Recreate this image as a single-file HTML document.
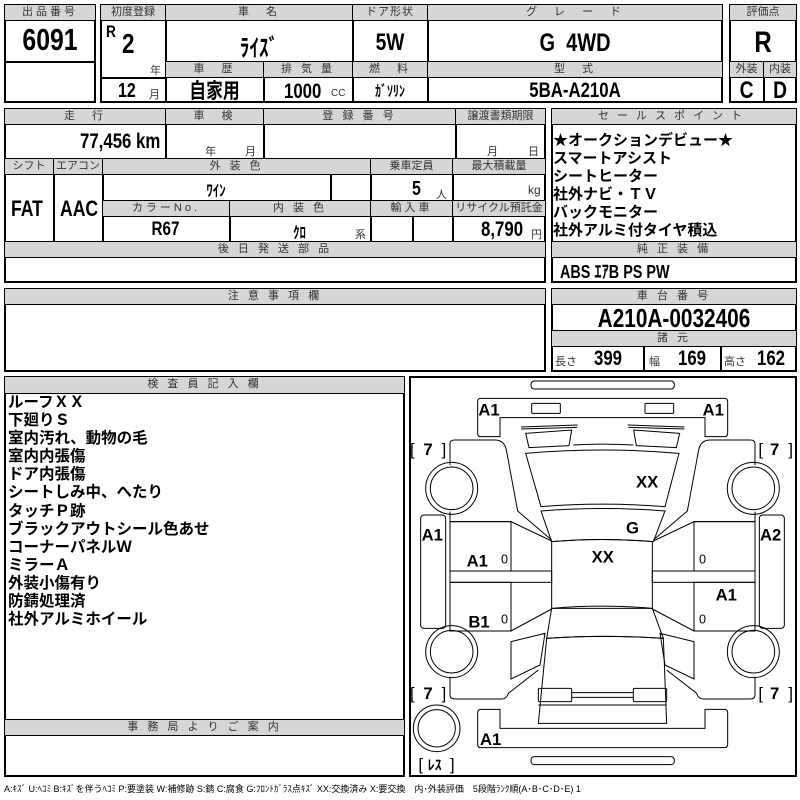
<!DOCTYPE html>
<html><head><meta charset="utf-8"><style>
*{margin:0;padding:0}
body{width:800px;height:800px;background:#fff;position:relative;overflow:hidden;font-family:"Liberation Sans","Noto Sans CJK JP",sans-serif;color:#000}
.b{position:absolute;border:1px solid #000;box-sizing:border-box}
.o{position:absolute;border:2px solid #000;box-sizing:border-box}
.h{position:absolute;border:1px solid #000;box-sizing:border-box;background:#d6d6d6;font-size:11px;text-align:center;line-height:15px;letter-spacing:3px;color:#333;white-space:nowrap;overflow:hidden}
.t{position:absolute;white-space:nowrap;font-family:"Liberation Sans","Noto Sans CJK JP",sans-serif;font-weight:bold;transform:scaleX(.8);transform-origin:left top}
.c{transform-origin:center top}
.s{position:absolute;white-space:nowrap;font-size:11px;color:#333}
.j{position:absolute;white-space:nowrap;font-weight:bold;font-size:15px;font-family:"Liberation Sans","Noto Sans CJK JP",sans-serif}
</style></head><body>

<!-- Box1 -->
<div class="o" style="left:4px;top:4px;width:92px;height:99px"></div>
<div class="h" style="left:4px;top:4px;width:92px;height:17px">出品番号</div>
<div class="b" style="left:4px;top:61px;width:92px;height:1px"></div>
<div class="t c" style="left:4px;top:22px;width:92px;text-align:center;font-size:31px">6091</div>

<!-- Box2 -->
<div class="o" style="left:100px;top:4px;width:623px;height:99px"></div>
<div class="h" style="left:100px;top:4px;width:66px;height:17px;letter-spacing:0">初度登録</div>
<div class="h" style="left:165px;top:4px;width:188px;height:17px">車　名</div>
<div class="h" style="left:352px;top:4px;width:76px;height:17px;letter-spacing:1px">ドア形状</div>
<div class="h" style="left:427px;top:4px;width:296px;height:17px">グ　レ　ー　ド</div>
<div class="b" style="left:165px;top:20px;width:1px;height:83px"></div>
<div class="b" style="left:352px;top:20px;width:1px;height:83px"></div>
<div class="b" style="left:427px;top:20px;width:1px;height:83px"></div>
<div class="b" style="left:100px;top:77px;width:66px;height:1px"></div>
<div class="h" style="left:165px;top:61px;width:99px;height:17px">車　歴</div>
<div class="h" style="left:263px;top:61px;width:90px;height:17px">排 気 量</div>
<div class="h" style="left:352px;top:61px;width:76px;height:17px">燃　料</div>
<div class="h" style="left:427px;top:61px;width:296px;height:17px">型　式</div>
<div class="b" style="left:263px;top:77px;width:1px;height:26px"></div>
<div class="t" style="left:106px;top:22px;font-size:17px">R</div>
<div class="t" style="left:122px;top:28px;font-size:28px">2</div>
<div class="s" style="left:150px;top:62px">年</div>
<div class="t" style="left:118px;top:80px;font-size:20px">12</div>
<div class="s" style="left:149px;top:86px">月</div>
<div class="t c" style="left:165px;top:28px;width:188px;text-align:center;font-size:24px;font-family:'Noto Sans CJK JP',sans-serif">ﾗｲｽﾞ</div>
<div class="t c" style="left:352px;top:29px;width:76px;text-align:center;font-size:24px">5W</div>
<div class="t c" style="left:427px;top:29px;width:296px;text-align:center;font-size:25px">G&nbsp;&nbsp;4WD</div>
<div class="t c" style="left:165px;top:77px;width:99px;text-align:center;font-size:21px;font-family:'Noto Sans CJK JP',sans-serif;line-height:26px">自家用</div>
<div class="t" style="left:284px;top:80px;font-size:21px">1000</div>
<div class="s" style="left:331px;top:88px;font-size:10px">CC</div>
<div class="t c" style="left:352px;top:80px;width:76px;text-align:center;font-size:15px;font-family:'Noto Sans CJK JP',sans-serif">ｶﾞｿﾘﾝ</div>
<div class="t c" style="left:427px;top:79px;width:296px;text-align:center;font-size:21px">5BA-A210A</div>

<!-- Box3 -->
<div class="o" style="left:729px;top:4px;width:68px;height:99px"></div>
<div class="h" style="left:729px;top:4px;width:68px;height:17px;letter-spacing:0">評価点</div>
<div class="h" style="left:729px;top:61px;width:35px;height:17px;letter-spacing:0">外装</div>
<div class="h" style="left:763px;top:61px;width:34px;height:17px;letter-spacing:0">内装</div>
<div class="b" style="left:763px;top:77px;width:1px;height:26px"></div>
<div class="t c" style="left:729px;top:26px;width:68px;text-align:center;font-size:30px">R</div>
<div class="t c" style="left:729px;top:77px;width:35px;text-align:center;font-size:24px">C</div>
<div class="t c" style="left:763px;top:77px;width:34px;text-align:center;font-size:24px">D</div>

<!-- Section2 left -->
<div class="o" style="left:4px;top:108px;width:542px;height:175px"></div>
<div class="h" style="left:4px;top:108px;width:162px;height:17px">走　行</div>
<div class="h" style="left:165px;top:108px;width:99px;height:17px">車　検</div>
<div class="h" style="left:263px;top:108px;width:193px;height:17px">登 録 番 号</div>
<div class="h" style="left:455px;top:108px;width:91px;height:17px;letter-spacing:0">譲渡書類期限</div>
<div class="b" style="left:165px;top:124px;width:1px;height:35px"></div>
<div class="b" style="left:263px;top:124px;width:1px;height:35px"></div>
<div class="b" style="left:455px;top:124px;width:1px;height:35px"></div>
<div class="t" style="left:80px;top:130px;font-size:21px">77,456 km</div>
<div class="s" style="left:205px;top:143px">年</div><div class="s" style="left:245px;top:143px">月</div>
<div class="s" style="left:487px;top:143px">月</div><div class="s" style="left:528px;top:143px">日</div>
<div class="h" style="left:4px;top:158px;width:50px;height:17px;letter-spacing:0">シフト</div>
<div class="h" style="left:53px;top:158px;width:50px;height:17px;letter-spacing:0">エアコン</div>
<div class="h" style="left:102px;top:158px;width:269px;height:17px">外 装 色</div>
<div class="h" style="left:370px;top:158px;width:83px;height:17px;letter-spacing:0">乗車定員</div>
<div class="h" style="left:452px;top:158px;width:94px;height:17px;letter-spacing:0">最大積載量</div>
<div class="b" style="left:53px;top:174px;width:1px;height:68px"></div>
<div class="b" style="left:102px;top:174px;width:1px;height:68px"></div>
<div class="b" style="left:330px;top:174px;width:1px;height:27px"></div>
<div class="b" style="left:370px;top:174px;width:1px;height:68px"></div>
<div class="b" style="left:452px;top:174px;width:1px;height:68px"></div>
<div class="t" style="left:11px;top:196px;font-size:22px">FAT</div>
<div class="t" style="left:60px;top:196px;font-size:22px">AAC</div>
<div class="t c" style="left:102px;top:177px;width:228px;text-align:center;font-size:16px;font-family:'Noto Sans CJK JP',sans-serif">ﾜｲﾝ</div>
<div class="t" style="left:412px;top:178px;font-size:20px">5</div><div class="s" style="left:436px;top:186px">人</div>
<div class="s" style="left:528px;top:183px;font-size:12px">kg</div>
<div class="h" style="left:102px;top:200px;width:128px;height:17px">カラーNo.</div>
<div class="h" style="left:229px;top:200px;width:142px;height:17px">内 装 色</div>
<div class="h" style="left:370px;top:200px;width:83px;height:17px">輸入車</div>
<div class="h" style="left:452px;top:200px;width:94px;height:17px;letter-spacing:0">リサイクル預託金</div>
<div class="b" style="left:229px;top:216px;width:1px;height:26px"></div>
<div class="b" style="left:412px;top:216px;width:1px;height:26px"></div>
<div class="t c" style="left:102px;top:219px;width:127px;text-align:center;font-size:19px">R67</div>
<div class="t c" style="left:229px;top:219px;width:141px;text-align:center;font-size:16px;font-family:'Noto Sans CJK JP',sans-serif">ｸﾛ</div>
<div class="s" style="left:355px;top:226px">系</div>
<div class="t" style="left:481px;top:218px;font-size:21px">8,790</div><div class="s" style="left:531px;top:226px">円</div>
<div class="h" style="left:4px;top:241px;width:542px;height:17px">後 日 発 送 部 品</div>

<!-- Section2 right -->
<div class="o" style="left:551px;top:108px;width:246px;height:175px"></div>
<div class="h" style="left:551px;top:108px;width:246px;height:17px;letter-spacing:8px">セールスポイント</div>
<div class="j" style="left:553px;top:129px">★オークションデビュー★</div>
<div class="j" style="left:553px;top:147px">スマートアシスト</div>
<div class="j" style="left:553px;top:165px">シートヒーター</div>
<div class="j" style="left:553px;top:183px">社外ナビ・ＴＶ</div>
<div class="j" style="left:553px;top:201px">バックモニター</div>
<div class="j" style="left:553px;top:219px">社外アルミ付タイヤ積込</div>
<div class="h" style="left:551px;top:241px;width:246px;height:17px">純 正 装 備</div>
<div class="t" style="left:560px;top:258px;font-size:18px">ABS ｴｱB PS PW</div>

<!-- Section3 -->
<div class="o" style="left:4px;top:288px;width:542px;height:84px"></div>
<div class="h" style="left:4px;top:288px;width:542px;height:17px">注 意 事 項 欄</div>
<div class="o" style="left:551px;top:288px;width:246px;height:84px"></div>
<div class="h" style="left:551px;top:288px;width:246px;height:17px">車 台 番 号</div>
<div class="t c" style="left:551px;top:303px;width:246px;text-align:center;font-size:26px">A210A-0032406</div>
<div class="h" style="left:551px;top:330px;width:246px;height:17px">諸 元</div>
<div class="b" style="left:643px;top:346px;width:1px;height:26px"></div>
<div class="b" style="left:720px;top:346px;width:1px;height:26px"></div>
<div class="s" style="left:555px;top:353px">長さ</div><div class="t" style="left:594px;top:347px;font-size:21px">399</div>
<div class="s" style="left:649px;top:353px">幅</div><div class="t" style="left:678px;top:347px;font-size:21px">169</div>
<div class="s" style="left:724px;top:353px">高さ</div><div class="t" style="left:757px;top:347px;font-size:21px">162</div>

<!-- Section4 left -->
<div class="o" style="left:4px;top:376px;width:401px;height:401px"></div>
<div class="h" style="left:4px;top:376px;width:401px;height:18px">検 査 員 記 入 欄</div>
<div class="j" style="left:8px;top:394px;font-size:15.5px;line-height:18.1px">ルーフＸＸ<br>下廻りＳ<br>室内汚れ、動物の毛<br>室内内張傷<br>ドア内張傷<br>シートしみ中、へたり<br>タッチＰ跡<br>ブラックアウトシール色あせ<br>コーナーパネルＷ<br>ミラーＡ<br>外装小傷有り<br>防錆処理済<br>社外アルミホイール</div>
<div class="h" style="left:4px;top:719px;width:401px;height:17px">事 務 局 よ り ご 案 内</div>

<!-- Diagram -->
<div class="o" style="left:409px;top:376px;width:388px;height:401px"></div>
<svg style="position:absolute;left:405px;top:375px" width="395" height="410" viewBox="0 0 1185 1230" fill="none" stroke="#000" stroke-width="3">
<rect x="378" y="18" width="430" height="24" rx="10"/>
<path d="M228,70 L958,70 Q968,70 968,80 L968,175 Q968,185 958,185 L900,185 L900,128 L285,128 L285,185 L228,185 Q218,185 218,175 L218,80 Q218,70 228,70Z"/>
<rect x="380" y="85" width="86" height="30" rx="3"/><rect x="720" y="85" width="86" height="30" rx="3"/>
<path d="M348,156 L518,150 M348,162 L516,157"/>
<path d="M362,175 L500,165 L492,212 L372,218Z"/>
<path d="M838,156 L668,150 M838,162 L670,157"/>
<path d="M824,175 L686,165 L694,212 L814,218Z"/>
<path d="M505,210 Q590,205 685,210"/>
<path d="M362,235 Q590,215 822,235 L780,395 Q590,380 408,395Z"/>
<path d="M408,408 Q590,393 780,408 L745,500 Q590,487 440,500Z"/>
<path d="M440,500 Q590,487 742,500 L742,700 Q590,687 440,700Z"/>
<path d="M440,700 L742,700 L775,790 Q590,778 425,790Z"/>
<path d="M425,790 Q590,778 775,790 L785,1045 L400,1045Z"/>
<rect x="400" y="940" width="100" height="40" rx="4"/><rect x="685" y="940" width="100" height="40" rx="4"/>
<path d="M500,953 L685,953 M500,967 L685,967 M400,990 L785,990"/>
<path d="M228,1003 L285,1003 L285,1060 L900,1060 L900,1003 L958,1003 Q968,1003 968,1013 L968,1108 Q968,1118 958,1118 L228,1118 Q218,1118 218,1108 L218,1013 Q218,1003 228,1003Z"/>
<rect x="378" y="1145" width="430" height="24" rx="10"/>
<path d="M135,270 L135,205 Q135,195 150,195 L270,195 Q300,195 305,230 L338,408 L440,495"/>
<path d="M135,410 L135,440 L318,440 L440,498"/>
<rect x="135" y="440" width="183" height="148"/>
<rect x="135" y="588" width="305" height="34"/>
<rect x="135" y="622" width="183" height="146"/>
<path d="M318,768 L440,702"/>
<path d="M318,800 L420,775 L405,870 L318,912Z"/>
<path d="M135,905 L135,960 Q135,972 150,972 L290,972 Q305,972 310,955 L400,885"/>
<rect x="47" y="420" width="75" height="340" rx="10"/>
<path d="M1050,270 L1050,205 Q1050,195 1035,195 L915,195 Q885,195 880,230 L847,408 L745,495"/>
<path d="M1050,410 L1050,440 L867,440 L745,498"/>
<rect x="867" y="440" width="183" height="148"/>
<rect x="742" y="588" width="308" height="34"/>
<rect x="867" y="622" width="183" height="146"/>
<path d="M867,768 L742,702"/>
<path d="M867,800 L765,775 L780,870 L867,912Z"/>
<path d="M1050,905 L1050,960 Q1050,972 1035,972 L895,972 Q880,972 875,955 L785,885"/>
<rect x="1063" y="420" width="75" height="340" rx="10"/>
<circle cx="140" cy="340" r="78"/><circle cx="140" cy="340" r="64"/>
<circle cx="140" cy="830" r="78"/><circle cx="140" cy="830" r="64"/>
<circle cx="1045" cy="340" r="78"/><circle cx="1045" cy="340" r="64"/>
<circle cx="1045" cy="830" r="78"/><circle cx="1045" cy="830" r="64"/>
<circle cx="95" cy="1060" r="70"/><circle cx="95" cy="1060" r="56"/>
<g fill="#000" stroke="none" font-family="Liberation Sans,sans-serif" font-weight="bold" font-size="50">
<text x="220" y="122">A1</text><text x="893" y="122">A1</text>
<text x="15" y="240" font-weight="normal">[</text><text x="55" y="240">7</text><text x="110" y="240" font-weight="normal">]</text>
<text x="1060" y="240" font-weight="normal">[</text><text x="1095" y="240">7</text><text x="1150" y="240" font-weight="normal">]</text>
<text x="693" y="337">XX</text><text x="663" y="475">G</text>
<text x="50" y="497">A1</text><text x="1065" y="497">A2</text>
<text x="560" y="562">XX</text><text x="185" y="575">A1</text>
<text x="932" y="677">A1</text><text x="190" y="757">B1</text>
<text x="288" y="565" font-weight="normal" font-size="38">0</text><text x="882" y="565" font-weight="normal" font-size="38">0</text>
<text x="288" y="745" font-weight="normal" font-size="38">0</text><text x="882" y="745" font-weight="normal" font-size="38">0</text>
<text x="15" y="972" font-weight="normal">[</text><text x="55" y="972">7</text><text x="110" y="972" font-weight="normal">]</text>
<text x="1060" y="972" font-weight="normal">[</text><text x="1095" y="972">7</text><text x="1150" y="972" font-weight="normal">]</text>
<text x="225" y="1110">A1</text>
<text x="40" y="1185" font-weight="normal">[</text><text x="68" y="1185" font-size="42" font-family="Noto Sans CJK JP,sans-serif">ﾚｽ</text><text x="135" y="1185" font-weight="normal">]</text>
</g>
</svg>

<div class="s" style="left:4px;top:782px;font-size:9px;color:#000">A:ｷｽﾞ U:ﾍｺﾐ B:ｷｽﾞを伴うﾍｺﾐ P:要塗装 W:補修跡 S:錆 C:腐食 G:ﾌﾛﾝﾄｶﾞﾗｽ点ｷｽﾞ XX:交換済み X:要交換　内･外装評価　5段階ﾗﾝｸ順(A･B･C･D･E) 1</div>
</body></html>
